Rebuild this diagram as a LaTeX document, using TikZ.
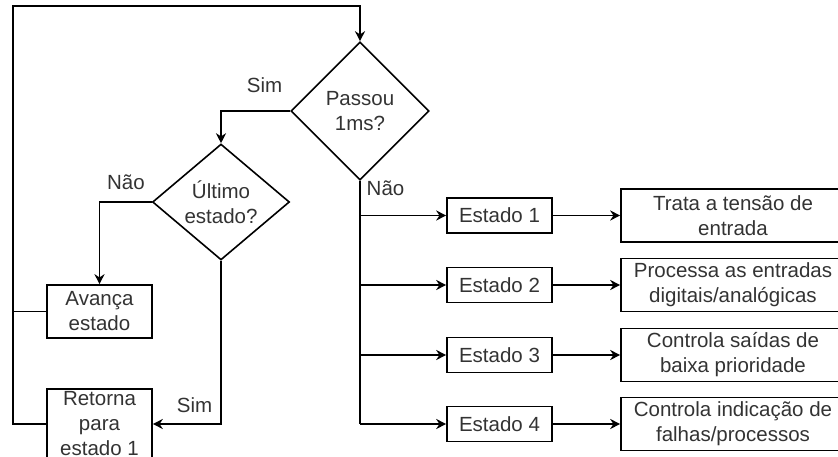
\documentclass[tikz,border=0pt]{standalone}
\usepackage{fontspec}
\setmainfont{Liberation Sans}
\usetikzlibrary{arrows.meta,shapes.geometric}

\begin{document}
\begin{tikzpicture}[x=1pt,y=-1pt,line width=1.6pt,
  font=\fontsize{20.5}{25}\selectfont,
  box/.style={draw,rectangle,align=center,text=black!80,inner sep=0pt},
  decision/.style={draw,diamond,align=center,text=black!80,inner sep=0pt},
  flow/.style={-{Stealth[length=10pt,width=10pt]}},
  lbl/.style={text=black!80,inner sep=0pt}]
\useasboundingbox (0,0) rectangle (838,457);
\clip (0,0) rectangle (838,457);

\node[decision,minimum width=138pt,minimum height=138pt] (passou) at (360,111) {Passou\\1ms?};
\node[decision,minimum width=137pt,minimum height=113pt] (ultimo) at (221,202) {Último\\estado?};
\node[box,minimum width=105pt,minimum height=53pt] (avanca) at (99.5,311.5) {Avança\\estado};
\node[box,minimum width=105pt,minimum height=70pt] (retorna) at (99.5,424) {Retorna\\para\\estado 1};

\foreach \i/\y in {1/215.5,2/285,3/355,4/424}
  \node[box,minimum width=105pt,minimum height=35pt] (estado\i) at (499.5,\y) {Estado \i};
\node[box,minimum width=224pt,minimum height=53pt] (tarefa1) at (733,215.5) {Trata a tensão de\\entrada};
\node[box,minimum width=224pt,minimum height=53pt] (tarefa2) at (733,285) {Processa as entradas\\digitais/analógicas};
\node[box,minimum width=224pt,minimum height=53pt] (tarefa3) at (733,355) {Controla saídas de\\baixa prioridade};
\node[box,minimum width=224pt,minimum height=53pt] (tarefa4) at (733,424) {Controla indicação de\\falhas/processos};

\node[lbl] (simA) at (264.5,85) {Sim};
\node[lbl] (naoA) at (385.5,188.5) {Não};
\node[lbl] (naoB) at (126,182) {Não};
\node[lbl] (simB) at (194.5,405.5) {Sim};

\coordinate (topo) at (13,6);
\draw[flow] (retorna.west) -| (topo) -| (passou.north);
\draw (avanca.west) -- (avanca.west -| topo);
\draw[flow] (passou.west) -| (ultimo.north);
\draw[flow] (ultimo.west) -| (avanca.north);
\draw[flow] (ultimo.south) |- (retorna.east);

\draw (passou.south) -- (passou.south |- estado4.west);
\foreach \i in {1,...,4} {
  \draw[flow] (passou.south |- estado\i.west) -- (estado\i.west);
  \draw[flow] (estado\i.east) -- (tarefa\i.west);
}
\end{tikzpicture}
\end{document}
